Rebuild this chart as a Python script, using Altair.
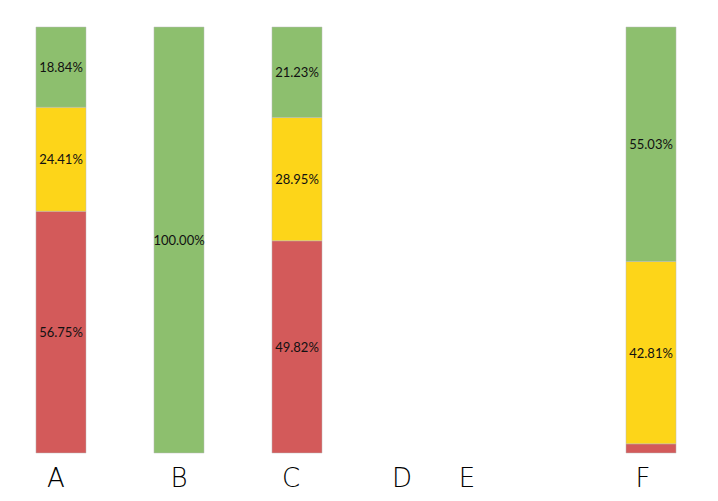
import altair as alt
import pandas as pd

categories = ["A", "B", "C", "D", "E", "F"]
levels = ["red", "yellow", "green"]
red_vals = [56.75, 0.0, 49.82, None, None, 2.16]
yellow_vals = [24.41, 0.0, 28.95, None, None, 42.81]
green_vals = [18.84, 100.0, 21.23, None, None, 55.03]
colors = ["#D35A5A", "#FDD519", "#8DBF6E"]

rows = []
for i, c in enumerate(categories):
    for lvl, vals, order in (("red", red_vals, 0), ("yellow", yellow_vals, 1), ("green", green_vals, 2)):
        v = vals[i]
        if v is None or v == 0:
            continue
        rows.append({"cat": c, "level": lvl, "value": v, "order": order,
                     "label": f"{v:.2f}%" if v >= 5 else ""})
df = pd.DataFrame(rows)

x = alt.X("cat:N", sort=categories,
          scale=alt.Scale(domain=categories, paddingInner=0.576, paddingOuter=0.237),
          axis=alt.Axis(title=None, labelAngle=0, domain=False, ticks=False,
                        labelFontSize=26, labelFont="DejaVu Sans", labelFontWeight=300,
                        labelColor="#000000", labelPadding=12,
                        labelOffset={"condition": [
                            {"test": "datum.value === 'A'", "value": -5},
                            {"test": "datum.value === 'D'", "value": -13},
                            {"test": "datum.value === 'E'", "value": -66},
                            {"test": "datum.value === 'C'", "value": -6},
                            {"test": "datum.value === 'F'", "value": -8},
                        ], "value": 0}))
y = alt.Y("value:Q", stack="zero", scale=alt.Scale(domain=[0, 100]), axis=None)

bars = alt.Chart(df).mark_bar(stroke="#bbbbbb", strokeWidth=0.6, strokeOpacity=0.8).encode(
    x=x, y=y,
    color=alt.Color("level:N", scale=alt.Scale(domain=levels, range=colors), legend=None),
    order=alt.Order("order:Q"),
)

text = alt.Chart(df).transform_stack(
    stack="value", groupby=["cat"], as_=["y0", "y1"], sort=[alt.SortField("order")]
).transform_calculate(mid="(datum.y0 + datum.y1) / 2").mark_text(
    font="Lato", fontSize=13, color="#111111", dy=1
).encode(
    x=alt.X("cat:N", sort=categories),
    y=alt.Y("mid:Q"),
    text="label:N",
)

chart = alt.layer(bars, text).properties(
    width=696, height=426, padding={"left": 0, "top": 18, "right": 0, "bottom": 0}
).configure_view(stroke=None)

chart.save("out.html", embed_options={"renderer": "svg", "actions": False})
